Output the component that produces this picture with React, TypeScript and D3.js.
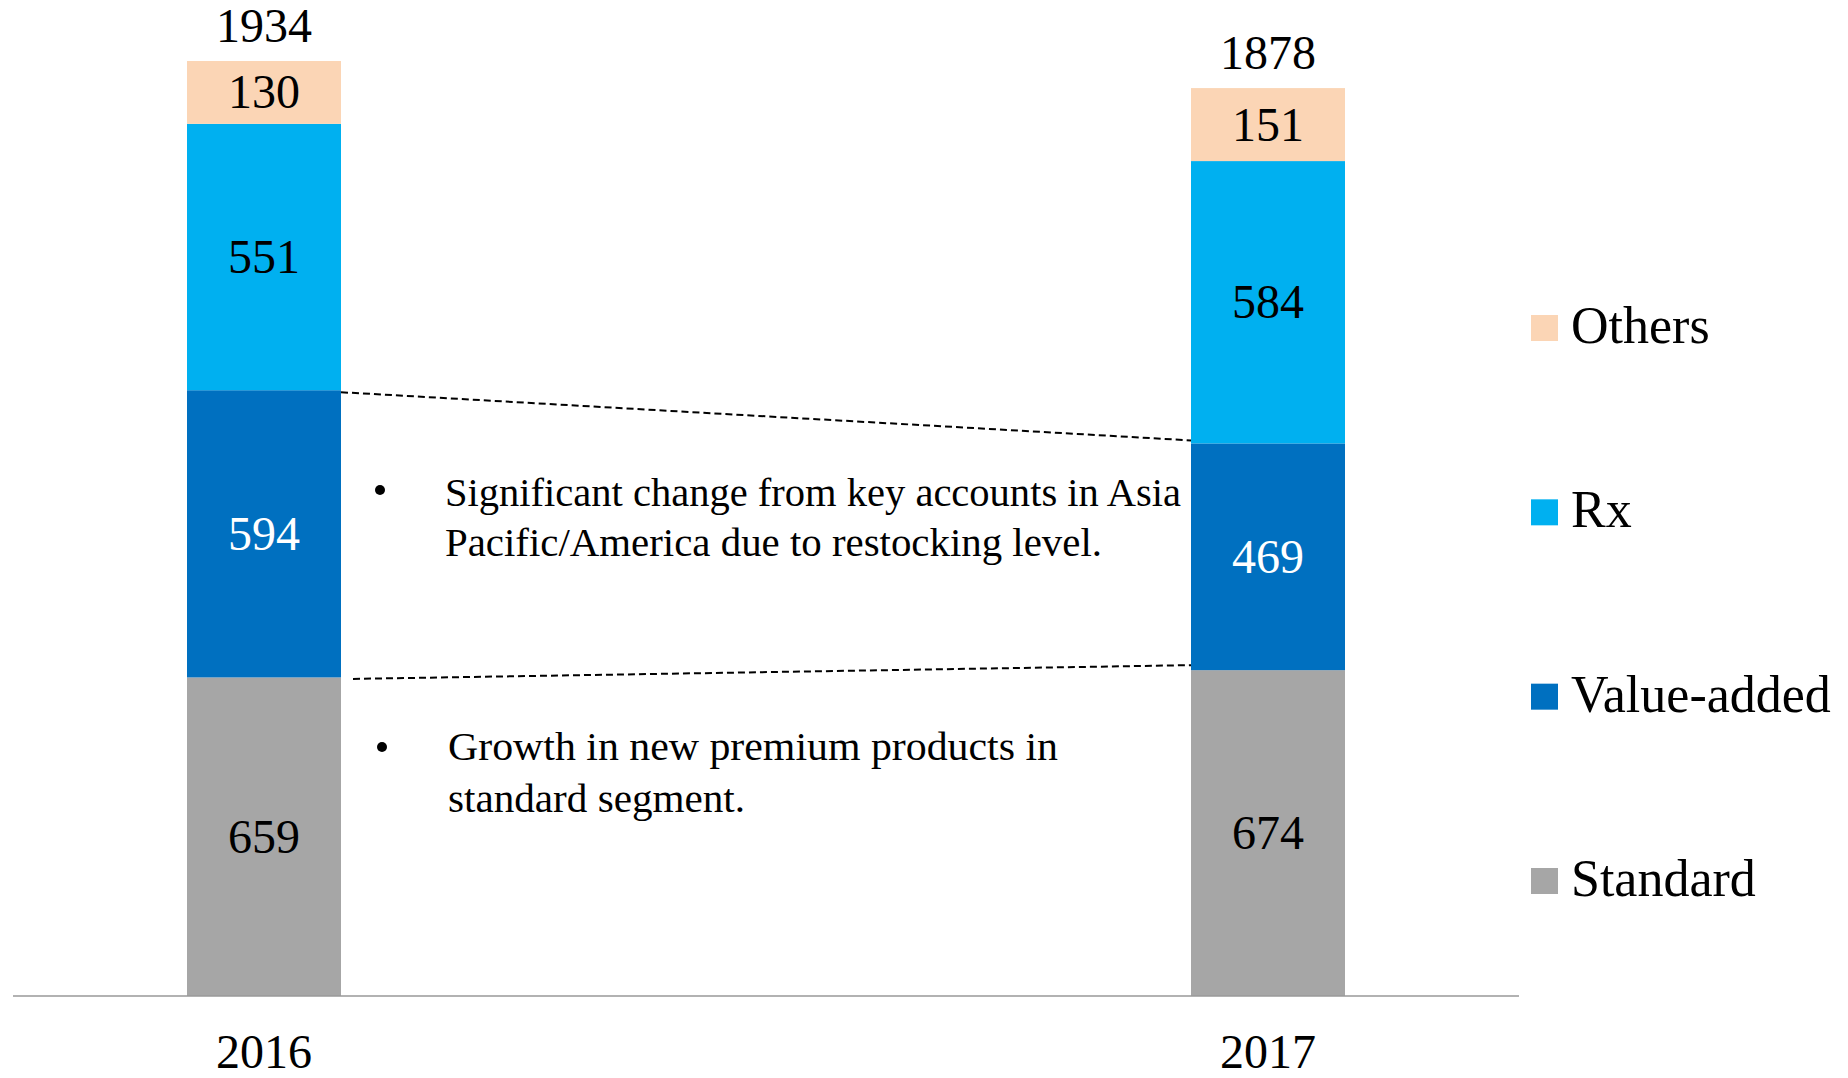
import React from "react";
import * as d3 from "d3";

const years = ["2016", "2017"];
const segments = ["Standard", "Value-added", "Rx", "Others"];
const standard = [659, 674];
const valueAdded = [594, 469];
const rx = [551, 584];
const others = [130, 151];
const totals = [1934, 1878];
const colors = ["#A6A6A6", "#0070C0", "#00B0F0", "#FBD5B5"];
const labelColors = ["#000", "#fff", "#000", "#000"];
const legendOrder = ["Others", "Rx", "Value-added", "Standard"];
const note1 = ["Significant change from key accounts in Asia", "Pacific/America due to restocking level."];
const note2 = ["Growth in new premium products in", "standard segment."];

const W = 1848;
const H = 1078;
const FONT = "'Liberation Serif', 'Times New Roman', serif";

export default function App() {
  const series = [standard, valueAdded, rx, others];
  const table = years.map((yr, i) => {
    const o: any = { year: yr };
    segments.forEach((s, k) => (o[s] = series[k][i]));
    return o;
  });
  const stacked = d3.stack().keys(segments)(table);

  const y = d3.scaleLinear().domain([0, 1934]).range([996, 61]);
  const x = d3.scalePoint().domain(years).range([264, 1268]);
  const bw = 154;

  const legendY = d3.scalePoint().domain(legendOrder).range([328, 881]);

  const b1 = stacked[1][0][1];
  const b2 = stacked[1][1][1];
  const s1 = stacked[0][0][1];
  const s2 = stacked[0][1][1];
  const x1r = (x("2016") as number) + bw / 2;
  const x2l = (x("2017") as number) - bw / 2;

  return (
    <svg width={W} height={H} style={{ position: "absolute", left: 0, top: 0, background: "#fff" }} fontFamily={FONT}>
      {stacked.map((layer, k) => (
        <g key={layer.key}>
          {layer.map((d, i) => {
            const cx = x(years[i]) as number;
            const top = y(d[1]);
            const bot = y(d[0]);
            return (
              <g key={i}>
                <rect x={cx - bw / 2} y={top} width={bw} height={bot - top} fill={colors[k]} />
                <text x={cx} y={(top + bot) / 2 + 16} textAnchor="middle" fontSize={48} fill={labelColors[k]}>
                  {d[1] - d[0]}
                </text>
              </g>
            );
          })}
        </g>
      ))}
      {totals.map((t, i) => (
        <text key={i} x={x(years[i]) as number} y={y(t) - 19} textAnchor="middle" fontSize={48} fill="#000">
          {t}
        </text>
      ))}
      <line x1={13} x2={1519} y1={996} y2={996} stroke="#999" strokeWidth={1.5} />
      {years.map((yr) => (
        <text key={yr} x={x(yr) as number} y={1068} textAnchor="middle" fontSize={48} fill="#000">
          {yr}
        </text>
      ))}
      <line x1={x1r} y1={y(b1) + 2} x2={x2l} y2={y(b2) - 3} stroke="#000" strokeWidth={2} strokeDasharray="7 4" />
      <line x1={x1r + 12} y1={y(s1) + 1.5} x2={x2l} y2={y(s2) - 5} stroke="#000" strokeWidth={2} strokeDasharray="7 4" />

      <circle cx={380} cy={490} r={5} fill="#000" />
      <text x={445} y={506} fontSize={40} textLength={736} lengthAdjust="spacingAndGlyphs">{note1[0]}</text>
      <text x={445} y={556} fontSize={40} textLength={657} lengthAdjust="spacingAndGlyphs">{note1[1]}</text>
      <circle cx={382} cy={747} r={5} fill="#000" />
      <text x={448} y={760} fontSize={40} textLength={610} lengthAdjust="spacingAndGlyphs">{note2[0]}</text>
      <text x={448} y={812} fontSize={40} textLength={297} lengthAdjust="spacingAndGlyphs">{note2[1]}</text>

      {legendOrder.map((name) => {
        const k = segments.indexOf(name);
        const ly = legendY(name) as number;
        return (
          <g key={name}>
            <rect x={1531} y={ly - 13} width={27} height={26} fill={colors[k]} />
            <text x={1571} y={ly + 15} fontSize={52} fill="#000">
              {name}
            </text>
          </g>
        );
      })}
    </svg>
  );
}
